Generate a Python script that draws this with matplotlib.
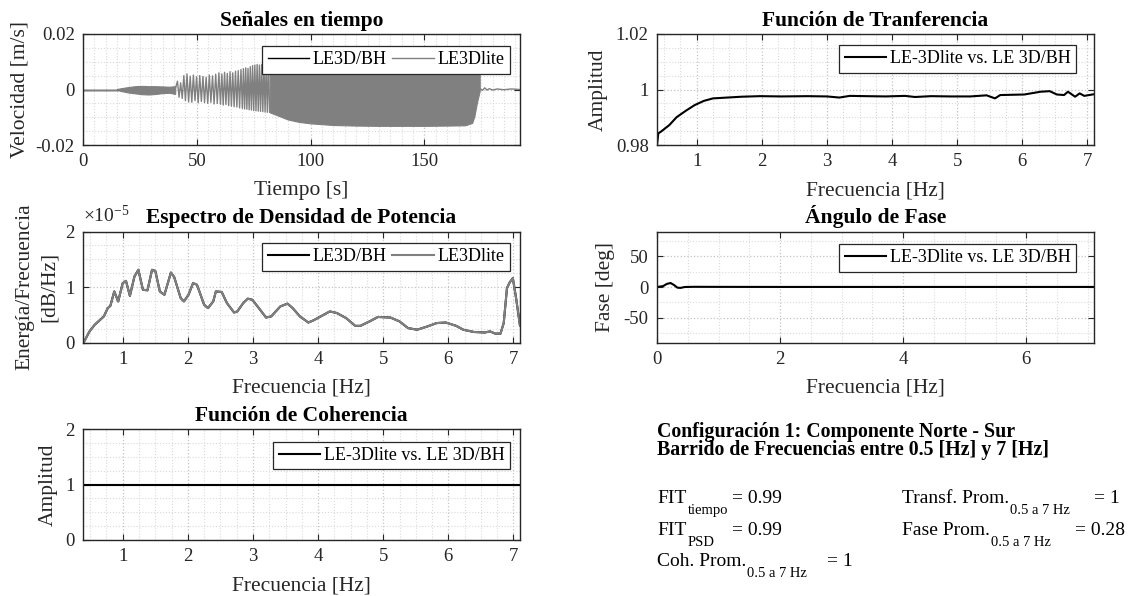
import numpy as np
import matplotlib
matplotlib.use('Agg')
import matplotlib.pyplot as plt
from matplotlib.ticker import MultipleLocator, FuncFormatter

plt.rcParams['font.family'] = ['Liberation Serif', 'DejaVu Serif']
plt.rcParams['axes.unicode_minus'] = False
plt.rcParams['mathtext.fontset'] = 'custom'
plt.rcParams['mathtext.rm'] = 'Liberation Serif'

# --- signal in time (velocity, m/s) ---
quiet_t = [0, 15]
quiet_v = [0, 0]
band_t = [15, 17, 20, 23, 26, 29, 32, 35, 38, 40.5]
band_hi = [0.0002, 0.0005, 0.0009, 0.0012, 0.0013, 0.0012, 0.0012, 0.0011, 0.0010, 0.0012]
band_lo = [-0.0002, -0.0006, -0.0011, -0.0014, -0.0017, -0.0018, -0.0016, -0.0013, -0.0012, -0.0016]
spk_t = [40.5, 41.5, 42.2, 42.9, 43.6, 44.3, 45.0, 45.7, 46.4, 47.1, 47.8, 48.5, 49.2, 49.9,
         50.6, 51.3, 52.0, 52.7, 53.4, 54.1, 54.8, 55.5, 56.2, 56.9, 57.6, 58.3, 59.0, 59.7,
         60.4, 61.0, 61.6, 62.2, 62.8, 63.4, 64.0, 64.6, 65.2, 65.8, 66.4, 67.0, 67.6, 68.2,
         68.8, 69.4, 70.0, 70.5, 71.0, 71.5, 72.0, 72.5, 73.0, 73.5, 74.0, 74.5, 75.0, 75.5,
         76.0, 76.5, 77.0, 77.5, 78.0, 78.5, 79.0, 79.5, 80.0, 80.5, 81.0, 81.5, 82.0]
spk_v = [0.0, 0.0030, -0.0028, 0.0024, -0.0032, 0.0050, -0.0040, 0.0056, -0.0045, 0.0048,
         -0.0046, 0.0052, -0.0040, 0.0046, -0.0048, 0.0050, -0.0043, 0.0047, -0.0047, 0.0044,
         -0.0050, 0.0052, -0.0046, 0.0049, -0.0052, 0.0055, -0.0050, 0.0060, -0.0053, 0.0056,
         -0.0056, 0.0062, -0.0054, 0.0058, -0.0058, 0.0064, -0.0060, 0.0060, -0.0062, 0.0066,
         -0.0063, 0.0068, -0.0066, 0.0072, -0.0068, 0.0075, -0.0070, 0.0078, -0.0071, 0.0076,
         -0.0073, 0.0082, -0.0074, 0.0086, -0.0076, 0.0088, -0.0077, 0.0090, -0.0078, 0.0088,
         -0.0079, 0.0090, -0.0080, 0.0090, -0.0081, 0.0090, -0.0082, 0.0090, -0.0082]
blk_t = [82, 86, 90, 95, 100, 105, 110, 120, 130, 140, 150, 160, 168, 171, 172, 173, 174.3]
blk_hi = [0.0090, 0.0090, 0.0090, 0.0090, 0.0090, 0.0090, 0.0090, 0.0090, 0.0090, 0.0090,
          0.0090, 0.0090, 0.0090, 0.0090, 0.0090, 0.0090, 0.0060]
blk_lo = [-0.0082, -0.0095, -0.0108, -0.0117, -0.0122, -0.0125, -0.0128, -0.0130, -0.0131,
          -0.0131, -0.0131, -0.0130, -0.0129, -0.0120, -0.0095, -0.0050, -0.0005]
tail_t = [174.3, 175.5, 176.5, 177.5, 178.5, 180, 182, 185, 188, 192]
tail_v = [0.0004, -0.0003, 0.0006, -0.0002, 0.0003, -0.0002, 0.0002, -0.0001, 0.0002, 0.0]

# --- PSD (x1e-5) ---
psd_f = [0.40, 0.49, 0.57, 0.71, 0.77, 0.81, 0.87, 0.93, 1.00, 1.05, 1.11, 1.18, 1.24, 1.31,
         1.38, 1.45, 1.50, 1.57, 1.64, 1.74, 1.79, 1.89, 1.94, 2.01, 2.08, 2.14, 2.25, 2.31,
         2.39, 2.43, 2.52, 2.60, 2.71, 2.76, 2.85, 2.92, 2.99, 3.09, 3.20, 3.28, 3.42, 3.53,
         3.61, 3.72, 3.85, 3.93, 4.04, 4.18, 4.29, 4.43, 4.57, 4.65, 4.79, 4.92, 5.11, 5.25,
         5.38, 5.52, 5.68, 5.82, 5.96, 6.12, 6.23, 6.39, 6.56, 6.64, 6.72, 6.80, 6.85, 6.90,
         6.94, 6.99, 7.04, 7.10]
psd_v = [0.00, 0.20, 0.32, 0.47, 0.62, 0.66, 0.92, 0.74, 1.07, 1.11, 0.84, 1.19, 1.31, 0.95,
         0.94, 1.31, 1.29, 0.92, 0.86, 1.26, 1.18, 0.80, 0.74, 0.86, 1.07, 1.04, 0.68, 0.62,
         0.74, 0.92, 0.91, 0.71, 0.54, 0.56, 0.71, 0.79, 0.77, 0.62, 0.45, 0.47, 0.65, 0.70,
         0.62, 0.47, 0.36, 0.40, 0.47, 0.56, 0.53, 0.44, 0.30, 0.30, 0.38, 0.46, 0.45, 0.38,
         0.26, 0.23, 0.29, 0.35, 0.36, 0.30, 0.23, 0.19, 0.18, 0.20, 0.16, 0.16, 0.35, 0.98,
         1.08, 1.16, 0.80, 0.30]

# --- transfer function ---
tf_f = [0.39, 0.41, 0.45, 0.58, 0.69, 0.83, 0.97, 1.11, 1.25, 1.47, 1.69, 1.97, 2.3, 2.7, 3.0,
        3.19, 3.35, 3.6, 3.9, 4.2, 4.35, 4.6, 4.9, 5.2, 5.45, 5.58, 5.66, 6.03, 6.28, 6.42,
        6.53, 6.64, 6.70, 6.81, 6.88, 6.95, 7.1]
tf_v = [0.9800, 0.9842, 0.9848, 0.9872, 0.9900, 0.9923, 0.9944, 0.9959, 0.9968, 0.9971, 0.9974,
        0.9976, 0.9975, 0.9976, 0.9975, 0.9971, 0.9977, 0.9976, 0.9975, 0.9977, 0.9973, 0.9976,
        0.9975, 0.9975, 0.9979, 0.9968, 0.9980, 0.9982, 0.9992, 0.9994, 0.9982, 0.9980, 0.9992,
        0.9974, 0.9986, 0.9977, 0.9983]

# --- phase angle (deg) ---
ph_f = [0, 0.1, 0.16, 0.22, 0.28, 0.33, 0.38, 0.45, 0.6, 1.0, 2.0, 3.0, 4.0, 5.0, 6.0, 7.1]
ph_v = [0, 1.5, 5.0, 6.5, 3.0, -1.0, -1.5, 0, 0.3, 0.2, 0.1, 0.1, 0.1, 0.1, 0.1, 0.1]

# --- coherence ---
coh_f = [0.39, 1, 2, 3, 4, 5, 6, 7, 7.1]
coh_v = [1, 1, 1, 1, 1, 1, 1, 1, 1]

GRAY = '#808080'
AXC = '#262626'
TICK_FS = 13.5
LAB_FS = 15.5
W, H = 1129, 596
fig = plt.figure(figsize=(W / 100, H / 100), dpi=100)


def make_ax(left, top):
    return fig.add_axes([left / W, 1 - (top + 111) / H, 437 / W, 111 / H])


def style(ax, xmaj, xmin, ymaj, ymin):
    ax.xaxis.set_major_locator(MultipleLocator(xmaj))
    ax.xaxis.set_minor_locator(MultipleLocator(xmin))
    ax.yaxis.set_major_locator(MultipleLocator(ymaj))
    ax.yaxis.set_minor_locator(MultipleLocator(ymin))
    fmt = FuncFormatter(lambda v, p: '%g' % round(v, 6))
    ax.xaxis.set_major_formatter(fmt)
    ax.yaxis.set_major_formatter(fmt)
    ax.grid(which='major', color='#c4c4c4', ls=':', lw=0.9)
    ax.grid(which='minor', color='#dadada', ls=':', lw=0.8)
    ax.set_axisbelow(True)
    ax.tick_params(which='both', direction='in', top=True, right=True,
                   labelsize=TICK_FS, colors=AXC, pad=6)
    ax.tick_params(which='major', length=4, width=0.8)
    ax.tick_params(which='minor', length=0)
    for s in ax.spines.values():
        s.set_color(AXC)
        s.set_linewidth(1.0)


def labels(ax, title, xl, yl, ylx, **kw):
    ax.set_title(title, fontsize=LAB_FS, fontweight='bold', pad=6)
    ax.set_xlabel(xl, fontsize=LAB_FS, color=AXC)
    ax.set_ylabel(yl, fontsize=LAB_FS, color=AXC, **kw)
    ax.xaxis.set_label_coords(0.5, -0.41)
    ax.xaxis.label.set_va('center')
    ax.yaxis.set_label_coords(ylx, 0.5)
    ax.yaxis.label.set_va('center')


def legend(ax, x1, y1, ncol=1):
    lg = ax.legend(loc='upper right', bbox_to_anchor=(x1, y1), ncol=ncol, fontsize=13,
                   handlelength=2.3, handletextpad=0.2, columnspacing=0.3, borderpad=0.3,
                   borderaxespad=0, fancybox=False, framealpha=1)
    lg.get_frame().set_edgecolor(AXC)
    lg.get_frame().set_linewidth(0.9)


# 1. time signals
ax1 = make_ax(83, 34)
ax1.plot(quiet_t, quiet_v, color='k', lw=1.0, label='LE3D/BH')
ax1.plot(quiet_t, quiet_v, color=GRAY, lw=1.0, label='LE3Dlite')
ax1.fill_between(band_t, band_lo, band_hi, color=GRAY, lw=0.8, ec=GRAY)
ax1.plot(spk_t, spk_v, color=GRAY, lw=1.0)
ax1.fill_between(blk_t, blk_lo, blk_hi, color=GRAY, lw=0.8, ec=GRAY)
ax1.plot(tail_t, tail_v, color=GRAY, lw=1.0)
ax1.set_xlim(0, 192)
ax1.set_ylim(-0.02, 0.02)
style(ax1, 50, 5, 0.02, 0.005)
labels(ax1, 'Señales en tiempo', 'Tiempo [s]', 'Velocidad [m/s]', -0.145)
legend(ax1, 0.977, 0.894, ncol=2)

# 2. PSD
ax2 = make_ax(83, 231.5)
ax2.plot(psd_f, psd_v, color='k', lw=1.5, label='LE3D/BH')
ax2.plot(psd_f, psd_v, color=GRAY, lw=1.5, label='LE3Dlite')
ax2.set_xlim(0.39, 7.1)
ax2.set_ylim(0, 2)
style(ax2, 1, 0.25, 1, 0.25)
labels(ax2, 'Espectro de Densidad de Potencia', 'Frecuencia [Hz]',
       'Energía/Frecuencia\n[dB/Hz]', -0.105, linespacing=1.4)
ax2.text(0.0, 1.045, r'$\mathregular{\times10^{-5}}$', transform=ax2.transAxes,
         fontsize=14, color=AXC, ha='left', va='bottom')
legend(ax2, 0.977, 0.898, ncol=2)

# 3. coherence
ax3 = make_ax(83, 429)
ax3.plot(coh_f, coh_v, color='k', lw=1.5, label='LE-3Dlite vs. LE 3D/BH')
ax3.set_xlim(0.39, 7.1)
ax3.set_ylim(0, 2)
style(ax3, 1, 0.25, 1, 0.25)
labels(ax3, 'Función de Coherencia', 'Frecuencia [Hz]', 'Amplitud', -0.08)
legend(ax3, 0.977, 0.886)

# 4. transfer function
ax4 = make_ax(657, 34)
ax4.plot(tf_f, tf_v, color='k', lw=1.5, label='LE-3Dlite vs. LE 3D/BH')
ax4.set_xlim(0.39, 7.1)
ax4.set_ylim(0.98, 1.02)
style(ax4, 1, 0.25, 0.02, 0.005)
labels(ax4, 'Función de Tranferencia', 'Frecuencia [Hz]', 'Amplitud', -0.135)
legend(ax4, 0.959, 0.903)

# 5. phase
ax5 = make_ax(657, 231.5)
ax5.plot(ph_f, ph_v, color='k', lw=1.5, label='LE-3Dlite vs. LE 3D/BH')
ax5.set_xlim(0, 7.1)
ax5.set_ylim(-90, 90)
style(ax5, 2, 0.5, 50, 25)
labels(ax5, 'Ángulo de Fase', 'Frecuencia [Hz]', 'Fase [deg]', -0.118)
legend(ax5, 0.959, 0.889)


# 6. summary text
def ftext(x, y, s, size=14, **kw):
    return fig.text(x / W, 1 - y / H, s, fontsize=size, va='baseline', ha='left', **kw)


ftext(657, 437, 'Configuración 1: Componente Norte - Sur', 14.3, fontweight='bold')
ftext(657, 455, 'Barrido de Frecuencias entre 0.5 [Hz] y 7 [Hz]', 14.3, fontweight='bold')

rend = fig.canvas.get_renderer()


def right_px(t):
    return t.get_window_extent(rend).x1


def sub_line(x, y, main, sub, val, val_x=None, gap=8):
    a = ftext(x, y, main)
    b = ftext(right_px(a) + 1, y + 11, sub, 10.5)
    vx = val_x if val_x is not None else right_px(b) + gap
    ftext(vx, y, val)
    return right_px(b)


end_t = sub_line(657, 503, 'FIT', 'tiempo', '= 0.99', gap=4)
sub_line(657, 535, 'FIT', 'PSD', '= 0.99', val_x=end_t + 4)
sub_line(657, 566, 'Coh. Prom.', '0.5 a 7 Hz', '= 1', gap=20)
sub_line(902, 503, 'Transf. Prom.', '0.5 a 7 Hz', '= 1', gap=24)
sub_line(902, 535, 'Fase Prom.', '0.5 a 7 Hz', '= 0.28', gap=24)

fig.savefig('out.png', dpi=100)
